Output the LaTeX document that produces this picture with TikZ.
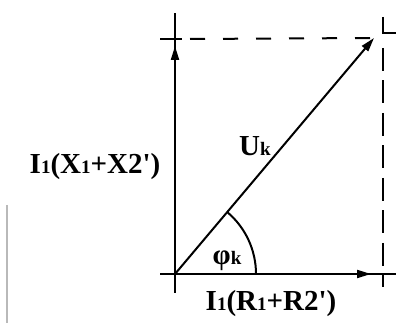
\documentclass[tikz,border=0pt]{standalone}
\usepackage{fontspec}
\setmainfont{Liberation Serif}
\usetikzlibrary{arrows.meta}
\newcommand{\smidx}[1]{{\fontsize{19}{20}\selectfont #1}}

\begin{document}
\begin{tikzpicture}[x=1pt,y=1pt,
    axis/.style={line width=2pt},
    vec/.style={line width=2pt,-{Triangle[length=14pt,width=8pt]}},
    hguide/.style={line width=2pt,dash pattern=on 15pt off 18pt},
    vguide/.style={line width=2pt,dash pattern=on 23pt off 9.5pt},
    lbl/.style={font=\fontsize{29}{32}\selectfont\bfseries,inner sep=0pt}]
    \useasboundingbox (0,0) rectangle (396,323);
    %\fill[opacity=.05] (0,0) rectangle (396,323);
    \coordinate (O) at (175,49);
    \coordinate (axL) at (160,49);
    \coordinate (axR) at (396,49);
    \coordinate (ayB) at (175,30);
    \coordinate (ayT) at (175,310);
    \coordinate (tipR) at (371,49);
    \coordinate (tipX) at (175,277);
    \coordinate (tipU) at (374,285);
    \coordinate (stubL) at (160,284);
    \coordinate (stubR) at (182,284);
    \coordinate (dashL) at (190,284);
    \coordinate (rTop) at (383,275);
    \coordinate (rBot) at (383,36);
    \coordinate (cA) at (383,306);
    \coordinate (cB) at (383,290);
    \coordinate (cC) at (396,290);
    \coordinate (edgeT) at (7,118);
    \coordinate (edgeB) at (7,0);
    % axes
    \draw[axis] (axL) -- (axR);
    \draw[axis] (ayB) -- (ayT);
    \draw[vec] (O) -- (tipR);
    \draw[vec] (O) -- (tipX);
    \draw[vec] (O) -- (tipU);
    % guide lines
    \draw[axis] (stubL) -- (stubR);
    \draw[hguide] (dashL) -- (tipU);
    \draw[vguide] (rTop) -- (rBot);
    \draw[axis] (cA) -- (cB) -- (cC);
    % angle
    \draw[axis] (256,49) arc[start angle=0,end angle=49.9,radius=81];
    % scan edge
    \draw[line width=1.2pt,gray!55] (edgeT) -- (edgeB);
    % labels
    \node[lbl] (uk) at (255,177) {U\smidx{k}};
    \node[lbl] (phik) at (227,62) {φ\smidx{k}};
    \node[lbl] (ix) at (95,156) {I\smidx{1}(X\smidx{1}+X2\textquotesingle)};
    \node[lbl] (ir) at (271,19) {I\smidx{1}(R\smidx{1}+R2\textquotesingle)};
\end{tikzpicture}
\end{document}
